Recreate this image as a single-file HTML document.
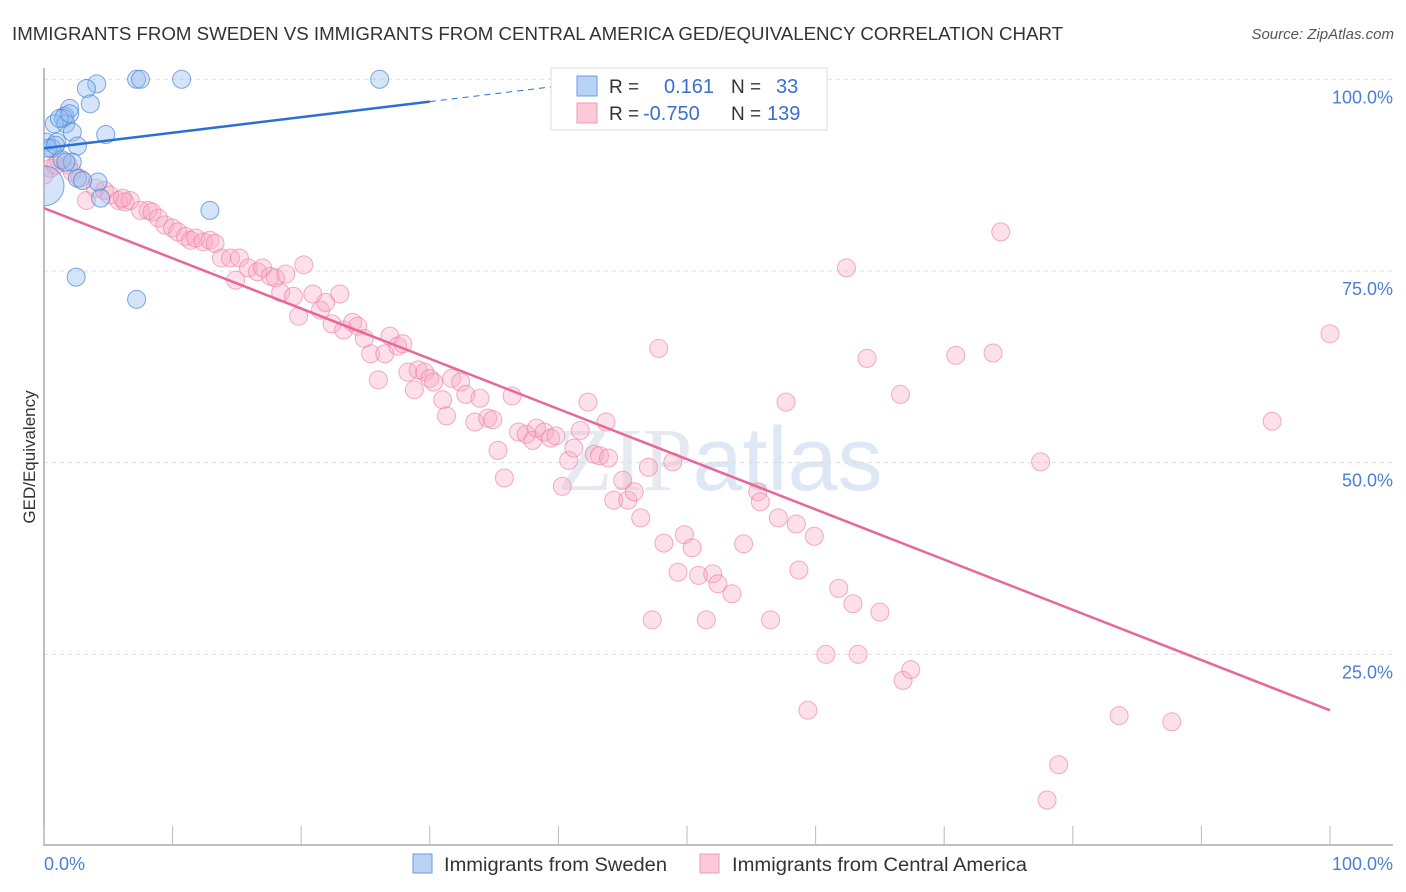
<!DOCTYPE html>
<html><head><meta charset="utf-8"><style>
body{margin:0;background:#fff;font-family:"Liberation Sans",sans-serif;}
svg{display:block}
</style></head><body>
<svg id="chart" width="1406" height="892" xmlns="http://www.w3.org/2000/svg">
<defs><clipPath id="plotclip"><rect x="44" y="60" width="1360" height="786"/></clipPath></defs>
<text x="12" y="40" font-size="18" fill="#333" textLength="1051" lengthAdjust="spacingAndGlyphs">IMMIGRANTS FROM SWEDEN VS IMMIGRANTS FROM CENTRAL AMERICA GED/EQUIVALENCY CORRELATION CHART</text>
<text x="1394" y="39" font-size="15" fill="#555" text-anchor="end" font-style="italic">Source: ZipAtlas.com</text>
<text x="720" y="490" font-size="90" fill="#e6eaf0" text-anchor="middle" font-family="Liberation Serif,serif">ZIP<tspan fill="#dde7f5" font-family="Liberation Sans,sans-serif">atlas</tspan></text>
<g id="grid"></g>
<g id="axes"></g>
<g id="marks" clip-path="url(#plotclip)"></g>
<text transform="translate(35,457) rotate(-90)" font-size="17" fill="#333" text-anchor="middle">GED/Equivalency</text>
<text x="44" y="870" font-size="18" fill="#4a7fd4">0.0%</text>
<text x="1393" y="870" font-size="18" fill="#4a7fd4" text-anchor="end">100.0%</text>
<g>
<rect x="413" y="854" width="19" height="19" fill="#b8d3f5" stroke="#6e9be0"/>
<text x="444" y="871" font-size="19" fill="#333" textLength="223" lengthAdjust="spacingAndGlyphs">Immigrants from Sweden</text>
<rect x="700" y="854" width="19" height="19" fill="#fbc9d8" stroke="#f09ab5"/>
<text x="732" y="871" font-size="19" fill="#333" textLength="295" lengthAdjust="spacingAndGlyphs">Immigrants from Central America</text>
</g>
<g>
<rect x="551" y="68" width="276" height="62" fill="#fff" stroke="#ddd"/>
<rect x="577" y="76" width="20" height="20" fill="#b8d3f5" stroke="#6e9be0"/>
<rect x="577" y="103" width="20" height="20" fill="#fbc9d8" stroke="#f09ab5"/>
<text x="609" y="93" font-size="19" fill="#333">R = <tspan x="664" fill="#3a6fd0" font-size="20">0.161</tspan><tspan x="731" fill="#333">N =</tspan><tspan x="776" fill="#3a6fd0" font-size="20">33</tspan></text>
<text x="609" y="120" font-size="19" fill="#333">R = <tspan x="643" fill="#3a6fd0" font-size="20">-0.750</tspan><tspan x="731" fill="#333">N =</tspan><tspan x="767" fill="#3a6fd0" font-size="20">139</tspan></text>
</g>
</svg>
<script>
const yTicks=[25,50,75,100];
const yTickLabels=["25.0%","50.0%","75.0%","100.0%"];
const xTicks=[0,10,20,30,40,50,60,70,80,90,100];
const swedenX=[4.1,7.2,7.5,10.7,26.1,3.3,3.6,2.0,1.6,1.5,0.8,1.7,2.2,4.8,0.2,1.0,0.6,2.6,1.4,2.2,2.6,4.2,4.4,12.9,2.5,7.2,0,0.3,0.9,1.7,3.0,1.2,2.0];
const swedenY=[99.4,100,100,100,100,98.8,96.8,96.2,95.2,94.9,94.2,94.2,93.1,92.8,91.8,91.8,91.0,91.3,89.5,89.2,87.1,86.6,84.5,82.9,74.2,71.3,86.1,91.0,91.4,89.2,86.8,94.9,95.5];
const swedenR=[9,9,9,9,9,9,9,9,9,9,9,9,9,9,9,9,9,9,9,9,9,9,9,9,9,9,20,9,9,9,9,9,9];
const centralX=[0.5,1.1,1.9,2.2,2.8,3.3,4.0,4.7,5.1,5.8,6.3,6.7,7.5,8.1,8.4,8.9,9.4,10.0,10.4,11.0,11.4,11.8,12.4,12.9,13.3,13.8,14.5,15.2,14.9,15.9,16.6,17.0,17.6,18.0,18.4,18.8,19.4,19.8,20.2,20.9,21.5,21.9,22.4,23.0,23.3,24.0,24.4,24.9,25.4,26.0,26.5,26.9,27.5,27.9,28.3,28.8,29.1,29.6,30.0,30.3,31.0,31.3,31.7,32.4,32.8,33.5,33.9,34.5,34.9,35.3,35.8,36.4,36.9,37.5,38.0,38.3,38.9,39.4,39.8,40.3,40.8,41.2,41.7,42.3,42.8,43.2,43.7,43.9,44.3,45.0,45.4,45.9,46.4,47.0,47.3,47.8,48.2,48.9,49.3,49.8,50.4,50.9,51.5,52.0,52.4,53.5,54.4,55.5,55.7,56.5,57.1,57.7,58.5,58.7,59.9,59.4,60.8,61.8,62.4,62.9,63.3,64.0,65.0,66.6,66.8,67.4,70.9,73.8,74.4,77.5,78.0,78.9,83.6,87.7,95.5,100,54.1,0.9,0,6.1];
const centralY=[88.4,89.5,88.8,87.9,87.1,84.2,85.8,85.5,84.9,84.2,84.0,84.2,82.9,82.9,82.7,81.9,81.0,80.6,80.1,79.5,79.0,79.3,78.8,79.0,78.6,76.7,76.7,76.7,73.8,75.4,74.9,75.4,74.3,74.1,72.2,74.6,71.7,69.1,75.8,72.0,69.9,70.9,68.1,72.0,67.3,68.3,67.8,66.2,64.2,60.8,64.2,66.5,65.2,65.5,61.8,59.5,62.1,61.8,61.0,60.5,58.2,56.1,61.0,60.5,58.9,55.3,58.4,55.8,55.6,51.6,48.0,58.7,54.0,53.7,52.9,54.5,54.0,53.2,53.5,46.9,50.3,51.9,54.2,57.9,51.1,50.9,55.3,50.6,45.1,47.7,45.1,46.2,42.8,49.4,29.5,64.9,39.5,50.1,35.7,40.6,38.9,35.3,29.5,35.5,34.2,32.9,39.4,46.2,44.9,29.5,42.8,57.9,42.0,36.0,40.4,17.7,25.0,33.6,75.4,31.6,25.0,63.6,30.5,58.9,21.6,23.0,64.0,64.3,80.1,50.1,6.0,10.6,17.0,16.2,55.4,66.8,99.9,88.8,87.5,84.5];
const swedenTrend=[91.0,0.203];
const centralTrend=[83.2,-0.655];

const X0=44,X1=1330,Y0=846,YS=7.667;
const sx=v=>X0+(X1-X0)*v/100;
const sy=v=>Y0-YS*v;
const NS="http://www.w3.org/2000/svg";
function mk(t,p,a){const e=document.createElementNS(NS,t);for(const k in a)e.setAttribute(k,a[k]);p.appendChild(e);return e;}
const grid=document.getElementById('grid'),axes=document.getElementById('axes'),marks=document.getElementById('marks');
yTicks.forEach((t,i)=>{
  const l=mk('line',grid,{x1:X0,x2:1393,y1:sy(t),y2:sy(t),stroke:'#ddd','stroke-dasharray':'4,4'});
  
  
  const tx=mk('text',grid,{x:1393,y:sy(t)+24,'font-size':18,fill:'#4a7fd4','text-anchor':'end'});
  tx.textContent=yTickLabels[i];
  
  
});
const ax=mk('line',axes,{x1:X0,x2:X0,y1:68,y2:846,stroke:'#aaa','stroke-width':1.5});


const bx=mk('line',axes,{x1:X0,x2:1393,y1:845,y2:845,stroke:'#aaa','stroke-width':1.5});


xTicks.forEach(t=>{
  const l=mk('line',axes,{x1:sx(t),x2:sx(t),y1:826,y2:845,stroke:'#bbb'});
  
  
});
centralX.forEach((x,i)=>{
  const c=mk('circle',marks,{cx:sx(x),cy:sy(centralY[i]),r:9,fill:'rgba(248,165,192,0.35)',stroke:'rgba(236,120,160,0.6)','stroke-width':1});
  
  
});
swedenX.forEach((x,i)=>{
  const c=mk('circle',marks,{cx:sx(x),cy:sy(swedenY[i]),r:swedenR[i],fill:'rgba(150,190,240,0.4)',stroke:'rgba(70,130,215,0.7)','stroke-width':1});
  
  
});
const bt=mk('line',marks,{x1:sx(0),y1:sy(swedenTrend[0]),x2:sx(30),y2:sy(swedenTrend[0]+swedenTrend[1]*30),stroke:'#2b6fd6','stroke-width':2.5});


const bd=mk('line',marks,{x1:sx(30),y1:sy(swedenTrend[0]+swedenTrend[1]*30),x2:sx(40),y2:sy(swedenTrend[0]+swedenTrend[1]*40),stroke:'#2b6fd6','stroke-width':1,'stroke-dasharray':'6,5'});


const pt=mk('line',marks,{x1:sx(0),y1:sy(centralTrend[0]),x2:sx(100),y2:sy(centralTrend[0]+centralTrend[1]*100),stroke:'#e8679a','stroke-width':2.5});


</script>
</body></html>
